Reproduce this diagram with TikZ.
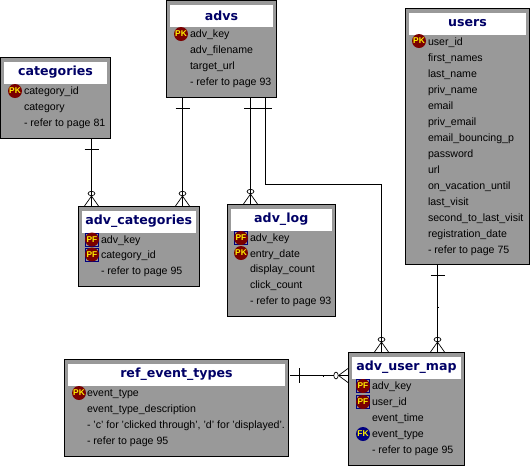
\documentclass[tikz,border=0pt]{standalone}
\usepackage{fontspec}
\setmainfont{Liberation Sans}
\newfontfamily\titlefont{DejaVu Sans}
\usetikzlibrary{calc}
\definecolor{boxgray}{HTML}{999999}
\definecolor{navy}{HTML}{000066}
\definecolor{keyred}{HTML}{7B0000}
\definecolor{keyblue}{HTML}{000080}
\tikzset{
  x=1pt,y=-1pt,
  tablebox/.style={draw=black,line width=1pt,fill=boxgray,anchor=north west,inner sep=0pt,outer sep=0pt},
  titlebox/.style={fill=white,anchor=north west,inner sep=0pt,outer sep=0pt,text=navy,align=center,font=\titlefont\bfseries\fontsize{12.6}{14}\selectfont},
  rowtext/.style={anchor=base west,inner sep=0pt,outer sep=0pt,font=\fontsize{10.6}{12}\selectfont,text=black},
  keybase/.style={circle,inner sep=0pt,outer sep=0pt,minimum size=14pt,text=yellow,font=\bfseries\fontsize{8.4}{9}\selectfont},
  pkkey/.style={keybase,fill=keyred},
  fkkey/.style={keybase,fill=keyblue},
  pfsquare/.style={draw=keyblue,line width=.8pt,fill=boxgray,minimum size=13pt,inner sep=0pt,outer sep=0pt},
  link/.style={draw=black,line width=1pt},
  thin link/.style={draw=black,line width=.7pt},
}
% \tbl{name}{x1}{y1}{x2}{y2}{title}
\newcommand{\tbl}[6]{%
  \node[tablebox,minimum width=#4pt-#2pt,minimum height=#5pt-#3pt] (#1) at (#2,#3) {};
  \node[titlebox,minimum width=#4pt-#2pt-7pt,minimum height=22pt] (#1t) at (#2+3.5,#3+4) {#6};
}
\newcommand{\rw}[4]{\node[rowtext] (#1) at (#2,#3+4) {#4};}
\newcommand{\pk}[3]{\node[pkkey] (#1) at (#2,#3) {PK};}
\newcommand{\fk}[3]{\node[fkkey] (#1) at (#2,#3) {FK};}
\newcommand{\pf}[3]{\node[pfsquare] (#1s) at (#2,#3) {};\node[pkkey] (#1) at (#2,#3) {PF};}
% crow foot pointing down to box top
\newcommand{\crowv}[2]{%
  \draw[thin link] (#1,#2) ellipse (3.4 and 2.2);
  \draw[thin link] (#1,#2+2.5) -- (#1-7,#2+12.5);
  \draw[thin link] (#1,#2+2.5) -- (#1+7,#2+12.5);
}
\begin{document}
\begin{tikzpicture}
\useasboundingbox (0,0) rectangle (531,467);
\fill[white] (0,0) rectangle (531,467);

\tbl{cat}{0.5}{57.5}{110.5}{138}{categories}
\pk{catk}{15}{91}
\rw{cat1}{24}{90}{category\_id}
\rw{cat2}{24}{106}{category}
\rw{cat3}{24}{122}{- refer to page 81}

\tbl{advs}{166.5}{0.5}{276.5}{97.5}{advs}
\pk{advk}{181}{34}
\rw{adv1}{190}{33}{adv\_key}
\rw{adv2}{190}{49}{adv\_filename}
\rw{adv3}{190}{65}{target\_url}
\rw{adv4}{190}{81}{- refer to page 93}

\tbl{ac}{78}{206.5}{199.5}{286.5}{adv\_categories}
\pf{ack1}{92}{239.5}
\pf{ack2}{92}{254.5}
\rw{ac1}{101}{239}{adv\_key}
\rw{ac2}{101}{254}{category\_id}
\rw{ac3}{101}{270}{- refer to page 95}

\tbl{al}{227}{204.5}{335.5}{316.5}{adv\_log}
\pf{alk1}{241}{238}
\pk{alk2}{241}{253}
\rw{al1}{250}{237}{adv\_key}
\rw{al2}{250}{253}{entry\_date}
\rw{al3}{250}{268}{display\_count}
\rw{al4}{250}{284}{click\_count}
\rw{al5}{250}{300}{- refer to page 93}

\tbl{re}{64.5}{359.5}{288.5}{456.5}{ref\_event\_types}
\pk{rek}{79}{393}
\rw{re1}{87}{392}{event\_type}
\rw{re2}{87}{408}{event\_type\_description}
\rw{re3}{87}{424}{- 'c' for 'clicked through', 'd' for 'displayed'.}
\rw{re4}{87}{440}{- refer to page 95}

\tbl{um}{348.5}{352.5}{464.5}{465.5}{adv\_user\_map}
\pf{umk1}{363}{386}
\pf{umk2}{363}{402}
\fk{umk3}{363}{434}
\rw{um1}{372}{385}{adv\_key}
\rw{um2}{372}{401}{user\_id}
\rw{um3}{372}{417}{event\_time}
\rw{um4}{372}{433}{event\_type}
\rw{um5}{372}{449}{- refer to page 95}

\tbl{us}{405.5}{8.5}{529.5}{264.5}{users}
\pk{usk}{419}{41}
\rw{us1}{428}{41}{user\_id}
\rw{us2}{428}{57}{first\_names}
\rw{us3}{428}{73}{last\_name}
\rw{us4}{428}{89}{priv\_name}
\rw{us5}{428}{105}{email}
\rw{us6}{428}{121}{priv\_email}
\rw{us7}{428}{137}{email\_bouncing\_p}
\rw{us8}{428}{153}{password}
\rw{us9}{428}{169}{url}
\rw{us10}{428}{185}{on\_vacation\_until}
\rw{us11}{428}{201}{last\_visit}
\rw{us12}{428}{217}{second\_to\_last\_visit}
\rw{us13}{428}{233}{registration\_date}
\rw{us14}{428}{249}{- refer to page 75}

% anchors for connector columns
\coordinate (c1) at (91.5,0);
\coordinate (c2) at (182.5,0);
\coordinate (c3) at (250.5,0);
\coordinate (c4) at (265.5,0);
\coordinate (c5) at (381.5,0);
\coordinate (c6) at (437.5,0);
\coordinate (r1) at (0,375.5);

\draw[link] (cat.south -| c1) -- (ac.north -| c1);
\draw[link] (84.5,149) -- (98.5,149);
\crowv{91.5}{193.5}

\draw[link] (advs.south -| c2) -- (ac.north -| c2);
\draw[link] (175.5,108.5) -- (189.5,108.5);
\crowv{182.5}{193.5}

\draw[link] (advs.south -| c3) -- (al.north -| c3);
\draw[link] (244,108.5) -- (272,108.5);
\crowv{250.5}{191.5}

\draw[link] (advs.south -| c4) -- (265.5,184.5) -- (381.5,184.5) -- (um.north -| c5);
\crowv{381.5}{339.5}

\draw[link] (us.south -| c6) -- (um.north -| c6);
\draw[link] (430.5,275.5) -- (444.5,275.5);
\fill[black] (436.5,307) rectangle (438.5,308);
\crowv{437.5}{339.5}

\draw[link] (re.east |- r1) ++(1.5,0) -- (um.west |- r1);
\draw[link] (299.5,368) -- (299.5,382.5);
\fill[black] (323,374.5) rectangle (324,377);
\fill[white] (333.5,372.5) rectangle (338.5,378.5);
\draw[thin link] (336,375.5) ellipse (2.2 and 3.4);
\draw[thin link] (338.5,375.5) -- (348,368.5);
\draw[thin link] (338.5,375.5) -- (348,382.5);
\end{tikzpicture}
\end{document}
